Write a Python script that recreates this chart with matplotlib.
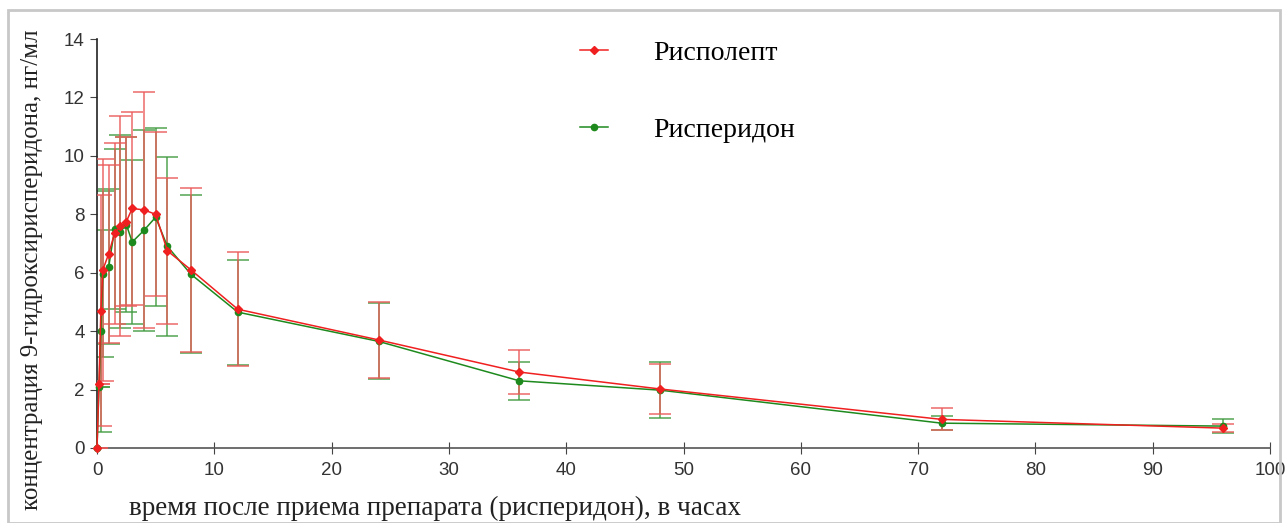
import numpy as np
import matplotlib
matplotlib.use("Agg")
import matplotlib.pyplot as plt
from matplotlib.patches import Rectangle

# time points, hours
hours = [0, 0.17, 0.33, 0.5, 1, 1.5, 2, 2.5, 3, 4, 5, 6, 8, 12, 24, 36, 48, 72, 96]

# Рисполепт
rispolept = [0, 2.2, 4.7, 6.1, 6.65, 7.35, 7.6, 7.75, 8.2, 8.15, 8.0, 6.75, 6.1, 4.75,
             3.7, 2.6, 2.02, 0.98, 0.68]
rispolept_sd = [0, 0, 3.95, 3.8, 3.05, 3.1, 3.75, 2.9, 3.3, 4.05, 2.8, 2.5, 2.8, 1.95,
                1.3, 0.75, 0.85, 0.38, 0.14]

# Рисперидон
risperidon = [0, 2.1, 4.0, 5.95, 6.2, 7.5, 7.4, 7.65, 7.05, 7.45, 7.9, 6.9, 5.95, 4.65,
              3.65, 2.3, 1.98, 0.85, 0.75]
risperidon_sd = [0, 0, 3.45, 2.85, 2.65, 2.75, 3.3, 3.0, 2.8, 3.45, 3.05, 3.05, 2.7, 1.8,
                 1.3, 0.65, 0.95, 0.25, 0.25]

yticks = [0, 2, 4, 6, 8, 10, 12, 14]
xticks = [0, 10, 20, 30, 40, 50, 60, 70, 80, 90, 100]


def main():
    fig = plt.figure(figsize=(12.87, 5.23), dpi=100)
    ax = fig.add_axes([97 / 1287, 1 - 448 / 523, 1173 / 1287, 409 / 523])

    # screenshot frame
    fig.patches.append(Rectangle((8 / 1287, 0), 1272 / 1287, 1 - 10 / 523,
                                 transform=fig.transFigure, fill=False,
                                 edgecolor="#c8c8c8", linewidth=2))

    ax.errorbar(hours, risperidon, yerr=risperidon_sd, fmt="none", ecolor="#3f9a3f",
                elinewidth=1.1, capsize=8, capthick=1.1, alpha=0.9, zorder=2)
    ax.errorbar(hours, rispolept, yerr=rispolept_sd, fmt="none", ecolor="#ec5a5a",
                elinewidth=1.1, capsize=8, capthick=1.1, alpha=0.9, zorder=3)
    g, = ax.plot(hours, risperidon, color="#1e8a1e", marker="o", markersize=4.5,
                 linewidth=1.1, zorder=4, clip_on=False)
    r, = ax.plot(hours, rispolept, color="#f02020", marker="D", markersize=4,
                 linewidth=1.1, zorder=5, clip_on=False)

    ax.set_xlim(0, 100)
    ax.set_ylim(0, 14)
    ax.set_xticks(xticks)
    ax.set_yticks(yticks)

    for s in ["top", "right"]:
        ax.spines[s].set_visible(False)
    ax.spines["left"].set_color("#222222")
    ax.spines["bottom"].set_color("#555555")
    ax.spines["left"].set_linewidth(1.2)
    ax.spines["bottom"].set_linewidth(1.2)

    ax.tick_params(axis="x", direction="inout", length=8, color="#444444", pad=6)
    ax.tick_params(axis="y", direction="out", length=5, color="#444444", pad=4)
    for lab in ax.get_xticklabels() + ax.get_yticklabels():
        lab.set_fontfamily("Liberation Sans")
        lab.set_fontsize(13.5)
        lab.set_color("#333333")

    fig.text(435 / 1287, 1 - 508 / 523,
             "время после приема препарата (рисперидон), в часах",
             family="Liberation Serif", fontsize=19.5, color="#222222",
             ha="center", va="center")
    fig.text(32 / 1287, 1 - 270 / 523, "концентрация 9-гидроксирисперидона, нг/мл",
             family="Liberation Serif", fontsize=18, color="#222222",
             rotation=90, ha="center", va="center")

    ax.legend([r, g], ["Рисполепт", "Рисперидон"], loc="upper left",
              bbox_to_anchor=(0.40, 1.03), frameon=False, borderpad=0,
              handlelength=1.0, handletextpad=1.65, labelspacing=1.85,
              prop={"family": "Liberation Serif", "size": 20})

    fig.savefig("out.png", dpi=100)
    plt.close(fig)


if __name__ == "__main__":
    main()
